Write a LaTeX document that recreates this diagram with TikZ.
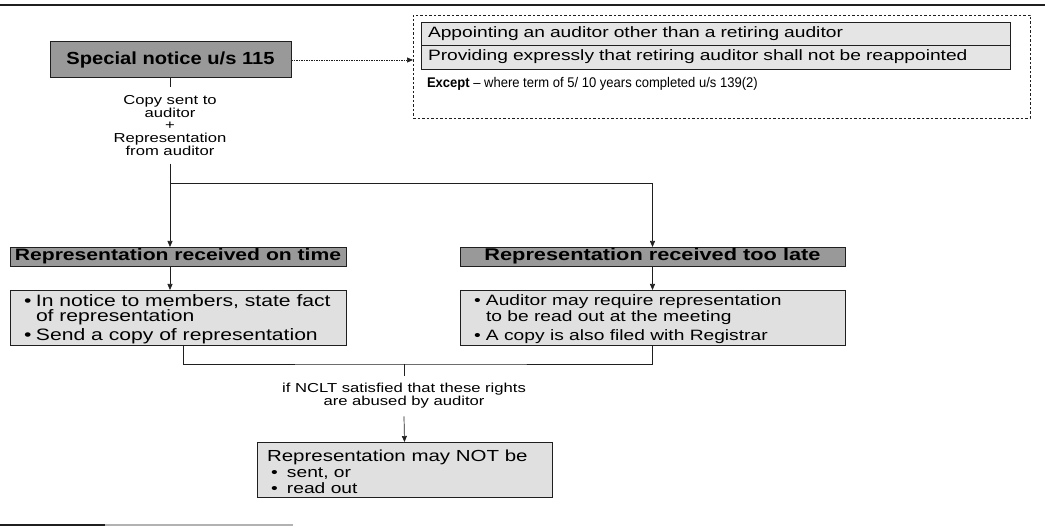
\documentclass[tikz,border=0pt]{standalone}
\usepackage{fontspec}
\setmainfont{Liberation Sans}[FakeStretch=1.28]
\newfontfamily\specfont{Liberation Sans}[FakeStretch=1.15]
\newfontfamily\plainfont{Liberation Sans}[FakeStretch=0.93]
\usetikzlibrary{arrows.meta,calc}

\definecolor{headgray}{gray}{0.60}
\definecolor{litegray}{gray}{0.88}
\definecolor{optgray}{gray}{0.90}
\definecolor{ink}{gray}{0.12}

% bullet with a small lead-in, and the matching hanging indent
\newcommand\bitem{\hspace*{4pt}\makebox[12pt][l]{\textbullet}}
\newcommand\bcont{\hspace*{16pt}}

\tikzset{
  every node/.style={inner sep=0pt, outer sep=0pt},
  specbox/.style={draw=ink, line width=1pt, fill=headgray,
    minimum width=241pt, minimum height=36pt,
    font=\specfont\fontsize{17.5}{20}\selectfont\bfseries},
  headbox/.style={draw=ink, line width=0.8pt, fill=headgray,
    minimum height=19pt},
  litebox/.style={draw=ink, line width=0.8pt, fill=litegray,
    minimum height=55pt},
  listtext/.style={anchor=west, align=left},
  optbox/.style={draw=ink, line width=0.8pt, fill=optgray,
    minimum width=589pt, text width=575pt, align=left,
    font=\fontsize{15}{18}\selectfont},
  groupbox/.style={draw=ink, line width=0.7pt, dash pattern=on 2.5pt off 2pt,
    minimum width=617pt, minimum height=103pt},
  note/.style={align=center, font=\fontsize{13}{12.8}\selectfont},
  link/.style={draw=ink, line width=0.7pt},
  arr/.style={link, -{Triangle[length=6pt,width=5pt]}},
  dasharr/.style={link, dash pattern=on 1.5pt off 1pt, -{Triangle[length=6pt,width=5pt]}}
}

\begin{document}
\begin{tikzpicture}[x=1pt, y=-1pt]
  \useasboundingbox (0,0) rectangle (1045,529);

  % page rules
  \draw[ink, line width=1.8pt] (0,5) -- (1045,5);
  \draw[ink, line width=1.2pt] (0,525) -- (105,525);
  \draw[gray!60, line width=1.2pt] (105,525) -- (293,525);

  % special notice and the resolutions it covers
  \node[specbox] (spec) at (170.5,60) {Special notice u/s 115};
  \node[groupbox] (grp) at (721.5,66.5) {};
  \node[optbox, minimum height=23pt] (opt1) at (715.5,33.5)
    {Appointing an auditor other than a retiring auditor};
  \node[optbox, minimum height=24pt] (opt2) at (715.5,57)
    {Providing expressly that retiring auditor shall not be reappointed};
  \node[anchor=west, font={\fontsize{14}{16}\selectfont\plainfont}] (exc) at (427,84)
    {\textbf{Except} – where term of 5/ 10 years completed u/s 139(2)};
  \draw[dasharr] (spec.east) -- (spec.east -| grp.west);

  % notice to auditor
  \node[note, outer sep=8pt] (copy) at (170,125.5)
    {Copy sent to\\auditor\\+\\Representation\\from auditor};
  \draw[link] (spec.south -| copy.north) -- (copy.north);

  % the two outcomes
  \node[headbox, minimum width=336pt, font=\fontsize{16.5}{18}\selectfont\bfseries]
    (ontime) at (178,256.5) {Representation received on time};
  \node[headbox, minimum width=385pt, font=\fontsize{17}{18}\selectfont\bfseries]
    (late) at (652.5,256.5) {Representation received too late};
  \coordinate (split) at (170,183);
  \draw[arr] (copy.south) -- (copy.south |- ontime.north);
  \draw[arr] (split) -| (late.north);

  \node[litebox, minimum width=336pt] (bleft) at (178,317.5) {};
  \node[listtext, font=\fontsize{16.5}{15.5}\selectfont] (bleftText)
    at ([xshift=10pt, yshift=-1.5pt]bleft.west)
    {\bitem In notice to members, state fact\\
     \bcont of representation\\[3pt]
     \bitem Send a copy of representation};
  \node[litebox, minimum width=385pt] (bright) at (652.5,317.5) {};
  \node[listtext, font=\fontsize{15}{16}\selectfont] (brightText)
    at ([xshift=10pt, yshift=-1.5pt]bright.west)
    {\bitem Auditor may require representation\\
     \bcont to be read out at the meeting\\[3pt]
     \bitem A copy is also filed with Registrar};
  \draw[arr] (copy.south |- ontime.south) -- (copy.south |- bleft.north);
  \draw[arr] (late.south) -- (bright.north);

  % tribunal restriction
  \coordinate (merge) at (404,364);
  \draw[link] ([xshift=5pt]bleft.south) |- (merge) -| (bright.south);
  \node[note, outer sep=8pt] (nclt) at (404,396)
    {if NCLT satisfied that these rights\\are abused by auditor};
  \draw[link] (merge) -- (nclt.north);
  \node[litebox, minimum width=295pt] (bar) at (404.5,469.5) {};
  \node[listtext, font=\fontsize{15}{16}\selectfont] (barText)
    at ([xshift=10pt, yshift=-2pt]bar.west)
    {{\fontsize{16}{17}\selectfont Representation may NOT be}\\
     \bitem\hspace*{4pt}sent, or\\
     \bitem\hspace*{4pt}read out};
  \draw[arr] (nclt.south) -- (bar.north);
\end{tikzpicture}
\end{document}
